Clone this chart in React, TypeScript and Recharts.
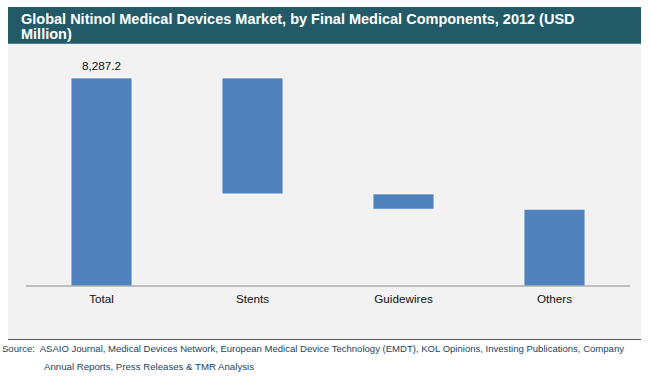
import { BarChart, Bar, XAxis, YAxis, LabelList } from 'recharts'

const categories = ['Total', 'Stents', 'Guidewires', 'Others']
const values = [8287.2, 4620.0, 610.0, 3057.2]
const valueLabels = ['8,287.2', '', '', '']
const yMax = 9000

const FONT = '"Liberation Sans", Arial, sans-serif'
const BAR = '#4f81bd'

// waterfall: first bar is the total, the rest step down from it
let remaining = values[0]
const data = categories.map((name, i) => {
  if (i === 0) return { name, idx: i, base: 0, value: values[0], label: valueLabels[0] }
  remaining -= values[i]
  return { name, idx: i, base: Math.max(remaining, 0), value: values[i], label: valueLabels[i] }
})
const edgeTicks = categories.map((_, i) => i).concat(categories.length)

export default function App() {
  return (
    <div style={{ position: 'absolute', left: 0, top: 0, width: 650, height: 378, background: '#fff', fontFamily: FONT }}>
      <div style={{ position: 'absolute', left: 8, top: 7, width: 633, height: 36, background: '#235a68', borderBottom: '1px solid #4d8090' }} />
      <div
        style={{
          position: 'absolute',
          left: 21,
          top: 11.5,
          color: '#fff',
          fontWeight: 'bold',
          fontSize: 14.5,
          lineHeight: '15px',
          whiteSpace: 'nowrap',
        }}
      >
        Global Nitinol Medical Devices Market, by Final Medical Components, 2012 (USD
        <br />
        Million)
      </div>
      <div style={{ position: 'absolute', left: 8, top: 44, width: 633, height: 295, background: '#f2f2f2', borderBottom: '1px solid #555' }} />

      <div style={{ position: 'absolute', left: 0, top: 0 }}>
        <BarChart width={650} height={378} data={data} margin={{ top: 60, right: 20, bottom: 61, left: 26 }}>
          <XAxis
            xAxisId="x_cat"
            dataKey="name"
            height={30}
            axisLine={false}
            tickLine={false}
            tickMargin={2}
            tick={{ fill: '#111', fontSize: 11.7, fontFamily: FONT }}
          />
          <XAxis
            xAxisId="a_edges"
            dataKey="idx"
            type="number"
            domain={[0, categories.length]}
            ticks={edgeTicks}
            interval={0}
            allowDataOverflow
            height={1}
            tick={false}
            tickSize={4}
            axisLine={{ stroke: '#8c8c8c' }}
            tickLine={{ stroke: '#8c8c8c' }}
          />
          <YAxis hide width={0} domain={[0, yMax]} />
          <Bar xAxisId="x_cat" dataKey="base" stackId="w" fill="transparent" barSize={61} isAnimationActive={false} />
          <Bar xAxisId="x_cat" dataKey="value" stackId="w" fill={BAR} stroke="#ffffff" strokeWidth={0.8} barSize={61} isAnimationActive={false}>
            <LabelList dataKey="label" position="top" offset={8} fill="#111" fontSize={11.7} fontFamily={FONT} />
          </Bar>
        </BarChart>
      </div>

      <svg width={650} height={378} style={{ position: 'absolute', left: 0, top: 0, pointerEvents: 'none' }}>
        <text x={2} y={351.5} fontSize={9.5} fill="#243f60" textLength={622} lengthAdjust="spacingAndGlyphs" style={{ whiteSpace: 'pre' }}>
          Source:  ASAIO Journal, Medical Devices Network, European Medical Device Technology (EMDT), KOL Opinions, Investing Publications, Company
        </text>
        <text x={44} y={369.5} fontSize={9.5} fill="#243f60" textLength={210} lengthAdjust="spacingAndGlyphs">
          Annual Reports, Press Releases &amp; TMR Analysis
        </text>
      </svg>
    </div>
  )
}
